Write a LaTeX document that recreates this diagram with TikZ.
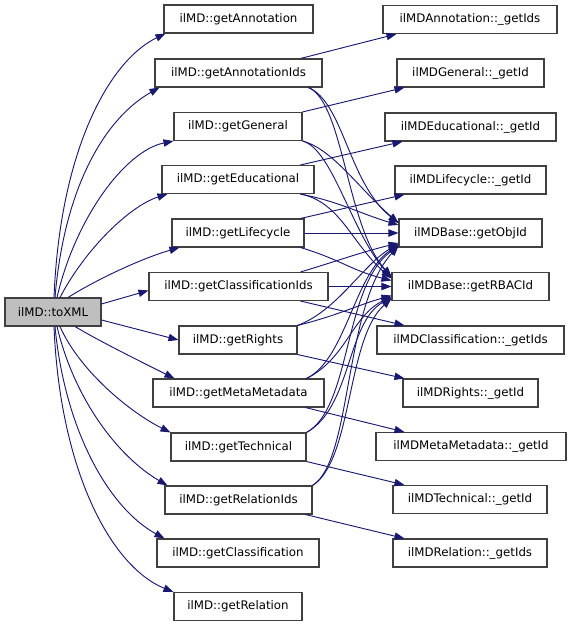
\documentclass[tikz,border=0pt]{standalone}
\usepackage{fontspec}
\newfontfamily\dvs{DejaVu Sans}
\usetikzlibrary{arrows.meta,calc}
\definecolor{edgeblue}{RGB}{25,25,112}
\definecolor{boxgrey}{RGB}{191,191,191}
\tikzset{
  fnbox/.style={draw=black!75, fill=white, line width=0.8pt, minimum height=21pt,
    inner sep=0pt, font=\dvs\fontsize{8.85}{11}\selectfont},
  wpx/.style={minimum width=#1*0.75pt},
  edge/.style={draw=edgeblue, line width=0.7pt, -{Triangle[length=7.5pt,width=5.5pt]}}
}
\begin{document}
\begin{tikzpicture}[x=0.75pt,y=-0.75pt]
\useasboundingbox (0,0) rectangle (571,627);
% root
\node[fnbox, fill=boxgrey, wpx=96] (toXML) at (53,312) {ilMD::toXML};
% middle column
\node[fnbox, wpx=149] (gA)   at (238.5,19)   {ilMD::getAnnotation};
\node[fnbox, wpx=167] (gAI)  at (238.5,73)   {ilMD::getAnnotationIds};
\node[fnbox, wpx=128] (gG)   at (238,126.5)  {ilMD::getGeneral};
\node[fnbox, wpx=152] (gE)   at (238,179.5)  {ilMD::getEducational};
\node[fnbox, wpx=132] (gL)   at (238,233)    {ilMD::getLifecycle};
\node[fnbox, wpx=179] (gCI)  at (238.5,286.5){ilMD::getClassificationIds};
\node[fnbox, wpx=118] (gR)   at (238,340)    {ilMD::getRights};
\node[fnbox, wpx=171] (gM)   at (238.5,393)  {ilMD::getMetaMetadata};
\node[fnbox, wpx=135] (gT)   at (238.5,447)  {ilMD::getTechnical};
\node[fnbox, wpx=147] (gRI)  at (238.5,500)  {ilMD::getRelationIds};
\node[fnbox, wpx=162] (gC)   at (238,553)    {ilMD::getClassification};
\node[fnbox, wpx=128] (gRel) at (238,606.5)  {ilMD::getRelation};
% right column
\node[fnbox, wpx=174] (cA)   at (470,19.5)   {ilMDAnnotation::\_getIds};
\node[fnbox, wpx=147] (cG)   at (470.5,73)   {ilMDGeneral::\_getId};
\node[fnbox, wpx=171] (cE)   at (470.5,127)  {ilMDEducational::\_getId};
\node[fnbox, wpx=151] (cL)   at (470.5,180)  {ilMDLifecycle::\_getId};
\node[fnbox, wpx=143] (obj)  at (470.5,233)  {ilMDBase::getObjId};
\node[fnbox, wpx=157] (rbac) at (470.5,286.5){ilMDBase::getRBACId};
\node[fnbox, wpx=187] (cC)   at (470.5,340)  {ilMDClassification::\_getIds};
\node[fnbox, wpx=135] (cR)   at (470.5,393)  {ilMDRights::\_getId};
\node[fnbox, wpx=190] (cM)   at (471,446.5)  {ilMDMetaMetadata::\_getId};
\node[fnbox, wpx=154] (cT)   at (470,499.5)  {ilMDTechnical::\_getId};
\node[fnbox, wpx=154] (cRel) at (470,553)    {ilMDRelation::\_getIds};

% toXML -> middle column
\draw[edge] ($(toXML.north)+(1,0)$) .. controls +(6,-148) and +(-56,27) .. ($(gA.south west)+(2,0)$);
\draw[edge] ($(toXML.north)+(2,0)$) .. controls +(10,-118) and +(-50,28) .. ($(gAI.south west)+(5,0)$);
\draw[edge] ($(toXML.north)+(4,0)$) .. controls +(18,-78) and +(-49,10) .. (gG.south west);
\draw[edge] ($(toXML.north)+(7,0)$) .. controls +(25,-48) and +(-38,12) .. ($(gE.south west)+(6,0)$);
\draw[edge] ($(toXML.north)+(15,0)$) .. controls +(32,-20) and +(-35,10) .. ($(gL.south west)+(8,0)$);
\draw[edge] ($(toXML.east)+(0,-8)$) -- ($(gCI.west)+(0,4)$);
\draw[edge] ($(toXML.east)+(0,8)$) -- (gR.west);
\draw[edge] ($(toXML.south)+(22,0)$) .. controls +(25,15) and +(-30,-15) .. ($(gM.north west)+(22,0)$);
\draw[edge] ($(toXML.south)+(7,0)$) .. controls +(20,45) and +(-40,-20) .. (gT.north west);
\draw[edge] ($(toXML.south)+(4,0)$) .. controls +(18,75) and +(-48,-28) .. ($(gRI.north west)+(3,0)$);
\draw[edge] ($(toXML.south)+(2,0)$) .. controls +(10,105) and +(-55,-30) .. ($(gC.north west)+(8,0)$);
\draw[edge] ($(toXML.south)+(1,0)$) .. controls +(6,145) and +(-62,-25) .. (gRel.north west);

% middle -> specific classes
\draw[edge] ($(gAI.north east)+(-22,0)$) -- ($(cA.south west)+(14,0)$);
\draw[edge] (gG.north east) -- ($(cG.south west)+(8,0)$);
\draw[edge] ($(gE.north east)+(-14,0)$) -- ($(cE.south west)+(18,0)$);
\draw[edge] ($(gL.north east)+(-4,0)$) -- ($(cL.south west)+(10,0)$);
\draw[edge] ($(gCI.south east)+(-28,0)$) -- ($(cC.north west)+(28,0)$);
\draw[edge] (gR.south east) -- ($(cR.north west)+(2,0)$);
\draw[edge] ($(gM.south east)+(-19,0)$) -- ($(cM.north west)+(29,0)$);
\draw[edge] (gT.south east) -- ($(cT.north west)+(12,0)$);
\draw[edge] ($(gRI.south east)+(-7,0)$) -- ($(cRel.north west)+(12,0)$);

% middle -> ilMDBase
\draw[edge] ($(gAI.south east)+(-14,0)$) .. controls +(35,15) and +(-50,-40) .. ($(obj.west)+(0,-10)$);
\draw[edge] ($(gAI.south east)+(-14,0)$) .. controls +(35,15) and +(-45,-50) .. ($(rbac.west)+(0,-10)$);
\draw[edge] (gG.south east) .. controls +(30,8) and +(-40,-35) .. ($(obj.west)+(0,-10)$);
\draw[edge] (gG.south east) .. controls +(30,8) and +(-40,-45) .. ($(rbac.west)+(0,-9)$);
\draw[edge] ($(gE.south east)+(-14,0)$) .. controls +(40,8) and +(-40,-12) .. ($(obj.west)+(0,-8)$);
\draw[edge] ($(gE.south east)+(-14,0)$) .. controls +(40,8) and +(-40,-35) .. ($(rbac.west)+(0,-8)$);
\draw[edge] (gL.east) -- (obj.west);
\draw[edge] ($(gL.south east)+(-4,0)$) .. controls +(40,12) and +(-40,-10) .. ($(rbac.west)+(0,-6)$);
\draw[edge] ($(gCI.north east)+(-28,0)$) .. controls +(40,-12) and +(-40,10) .. ($(obj.west)+(0,10)$);
\draw[edge] (gCI.east) -- (rbac.west);
\draw[edge] (gR.north east) .. controls +(40,-15) and +(-35,20) .. ($(obj.west)+(0,11)$);
\draw[edge] (gR.north east) .. controls +(40,-10) and +(-35,10) .. ($(rbac.west)+(0,9)$);
\draw[edge] ($(gM.north east)+(-18,0)$) .. controls +(40,-20) and +(-45,30) .. ($(obj.west)+(0,12)$);
\draw[edge] ($(gM.north east)+(-18,0)$) .. controls +(40,-20) and +(-40,20) .. ($(rbac.west)+(0,10)$);
\draw[edge] (gT.north east) .. controls +(45,-25) and +(-55,40) .. ($(obj.west)+(0,13)$);
\draw[edge] (gT.north east) .. controls +(45,-25) and +(-45,25) .. ($(rbac.west)+(0,11)$);
\draw[edge] (gRI.north east) .. controls +(40,-25) and +(-55,60) .. ($(obj.west)+(0,13)$);
\draw[edge] (gRI.north east) .. controls +(40,-25) and +(-45,40) .. ($(rbac.west)+(0,12)$);
\end{tikzpicture}
\end{document}
